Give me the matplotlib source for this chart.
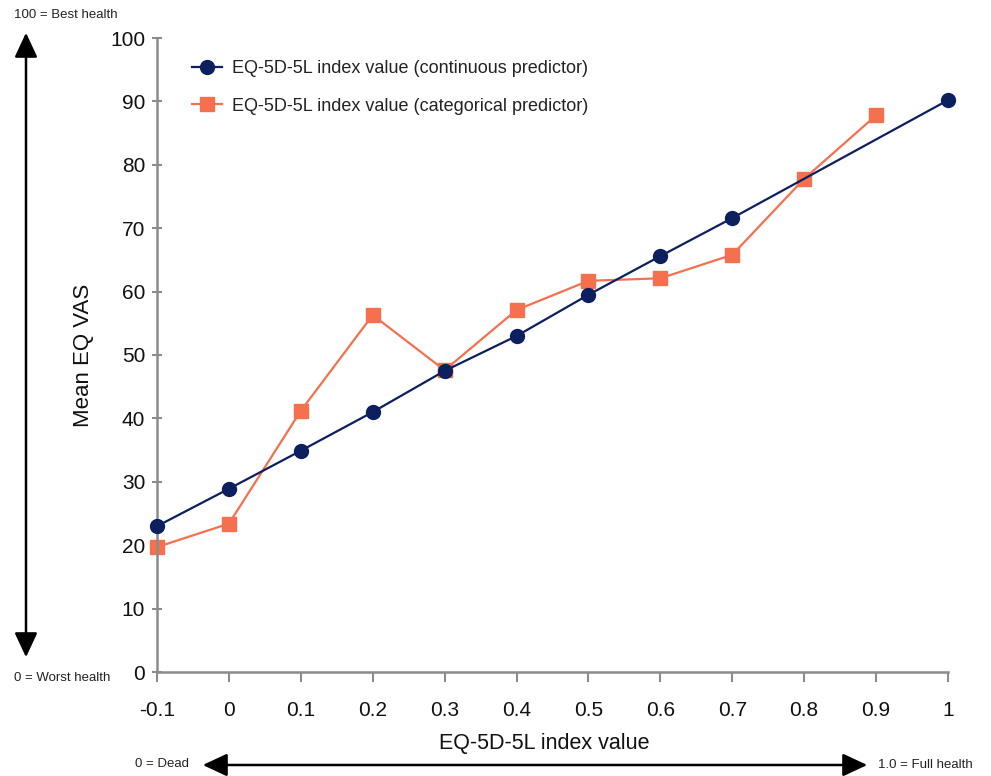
import matplotlib
matplotlib.use("Agg")
import matplotlib.pyplot as plt
from matplotlib.patches import FancyArrowPatch

plt.rcParams['font.family'] = ['Liberation Sans', 'DejaVu Sans']

# ---- data ----
x_cont = [-0.1, 0.0, 0.1, 0.2, 0.3, 0.4, 0.5, 0.6, 0.7, 1.0]
y_cont = [23.0, 28.9, 34.9, 41.0, 47.5, 53.0, 59.5, 65.6, 71.6, 90.2]
x_cat = [-0.1, 0.0, 0.1, 0.2, 0.3, 0.4, 0.5, 0.6, 0.7, 0.8, 0.9]
y_cat = [19.7, 23.4, 41.2, 56.3, 47.6, 57.1, 61.7, 62.1, 65.8, 77.8, 87.8]
x_ticks = [-0.1, 0, 0.1, 0.2, 0.3, 0.4, 0.5, 0.6, 0.7, 0.8, 0.9, 1]
x_ticklabels = ['-0.1', '0', '0.1', '0.2', '0.3', '0.4', '0.5', '0.6', '0.7', '0.8', '0.9', '1']
y_ticks = [0, 10, 20, 30, 40, 50, 60, 70, 80, 90, 100]
label_cont = 'EQ-5D-5L index value (continuous predictor)'
label_cat = 'EQ-5D-5L index value (categorical predictor)'

NAVY = '#0c1f5e'
ORANGE = '#f4704f'
GRAY = '#8c8c8c'

W, H = 991, 776
fig = plt.figure(figsize=(W / 100, H / 100), dpi=100)
L, R, B, T = 157, 948, 672, 38
ax = fig.add_axes([L / W, 1 - B / H, (R - L) / W, (B - T) / H])

ax.plot(x_cont, y_cont, color=NAVY, lw=1.6, marker='o', ms=10, clip_on=False,
        label=label_cont, zorder=3)
ax.plot(x_cat, y_cat, color=ORANGE, lw=1.6, marker='s', ms=10.5, clip_on=False,
        label=label_cat, zorder=2)

ax.set_xlim(-0.1, 1.0)
ax.set_ylim(0, 100)
ax.set_xticks(x_ticks)
ax.set_xticklabels(x_ticklabels)
ax.set_yticks(y_ticks)
for s in ['top', 'right']:
    ax.spines[s].set_visible(False)
for s in ['left', 'bottom']:
    ax.spines[s].set_color(GRAY)
    ax.spines[s].set_linewidth(1.8)
ax.tick_params(axis='x', direction='out', length=7, width=1.5, color=GRAY,
               labelsize=15, pad=14, labelcolor='#111111')
ax.tick_params(axis='y', direction='inout', length=7, width=1.5, color=GRAY,
               labelsize=15, pad=5, labelcolor='#111111')

ax.set_ylabel('Mean EQ VAS', fontsize=16, color='#111111')
ax.yaxis.set_label_coords(-0.093, 0.5)
ax.yaxis.label.set_va('center')
ax.set_xlabel('EQ-5D-5L index value', fontsize=15.5, color='#111111')
ax.xaxis.set_label_coords(0.49, -0.112)
ax.xaxis.label.set_va('center')

leg = ax.legend(loc='upper left', bbox_to_anchor=(192 / W, 1 - 60 / H),
                bbox_transform=fig.transFigure, frameon=False, fontsize=13,
                borderpad=0, borderaxespad=0, labelspacing=1.15,
                handlelength=1.65, handletextpad=0.55)
for t in leg.get_texts():
    t.set_color('#222222')


def fx(px):
    return px / W


def fy(py):
    return 1 - py / H


# vertical arrow
fig.add_artist(FancyArrowPatch((fx(26), fy(30)), (fx(26), fy(660)),
                               transform=fig.transFigure,
                               arrowstyle='<|-|>,head_length=15,head_width=7',
                               mutation_scale=1, lw=1.8, color='black'))
# horizontal arrow
fig.add_artist(FancyArrowPatch((fx(200), fy(765)), (fx(870), fy(765)),
                               transform=fig.transFigure,
                               arrowstyle='<|-|>,head_length=15,head_width=7',
                               mutation_scale=1, lw=1.8, color='black'))

fs = 9.5
fig.text(fx(14), fy(15), '100 = Best health', fontsize=fs, va='center', ha='left', color='#222222')
fig.text(fx(14), fy(678), '0 = Worst health', fontsize=fs, va='center', ha='left', color='#222222')
fig.text(fx(135), fy(764), '0 = Dead', fontsize=fs, va='center', ha='left', color='#222222')
fig.text(fx(878), fy(765), '1.0 = Full health', fontsize=fs, va='center', ha='left', color='#222222')

fig.savefig('out.png', dpi=100)
